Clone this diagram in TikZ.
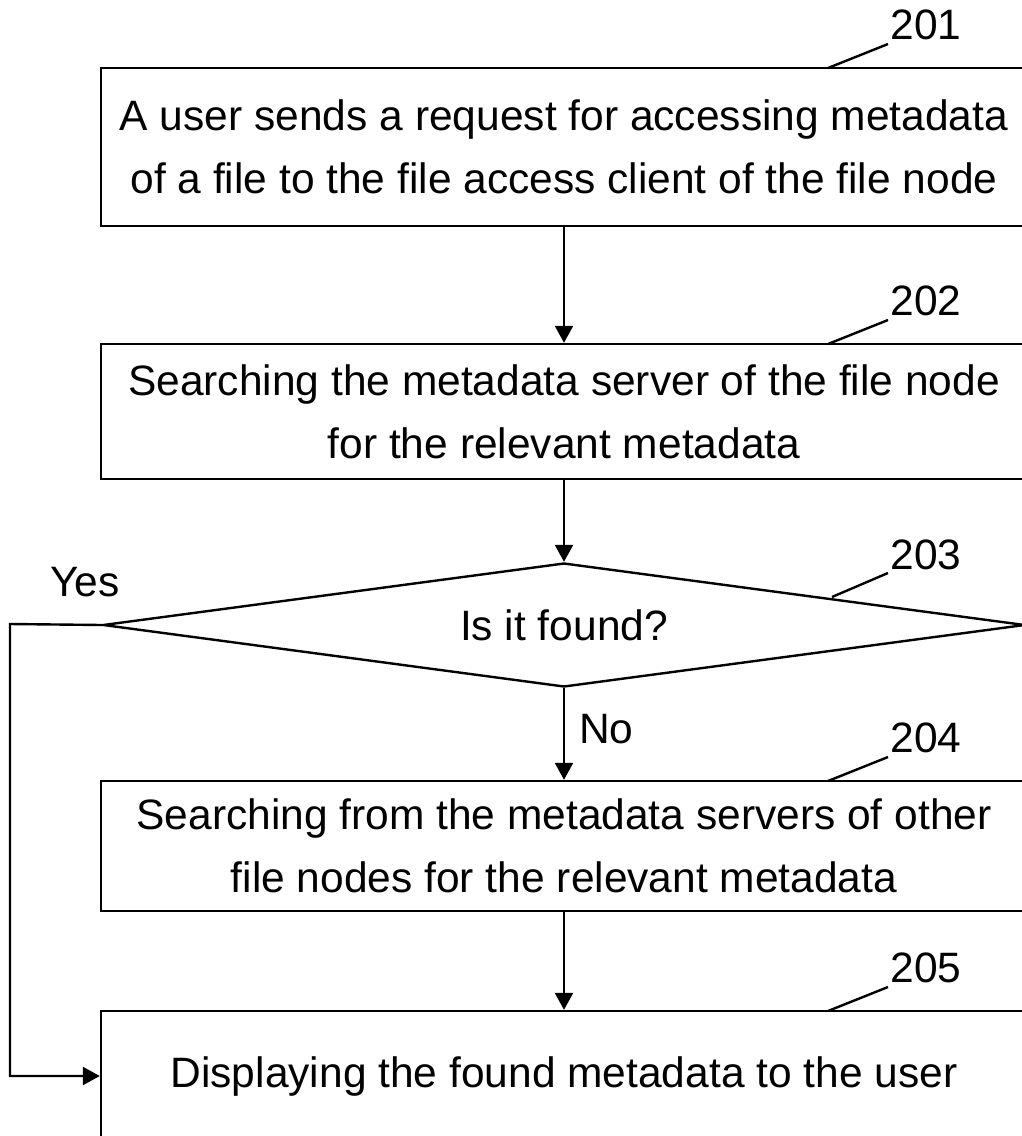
\documentclass[tikz,border=0pt]{standalone}
\usepackage{fontspec}
\setmainfont{Liberation Sans}
\usetikzlibrary{shapes.geometric,arrows.meta}
\begin{document}
\begin{tikzpicture}[x=1pt,y=-1pt,
  every node/.style={font=\fontsize{42.5}{63}\selectfont},
  box/.style={draw,line width=2.4pt,rectangle,minimum width=926pt,align=center,inner sep=0pt},
  dec/.style={draw,line width=2.4pt,diamond,inner sep=0pt,minimum width=922pt,minimum height=124pt,aspect=7.4},
  arr/.style={line width=2.4pt,-{Triangle[length=17pt,width=18pt]}},
  lead/.style={line width=2.4pt},
  ref/.style={inner sep=0pt,anchor=center}]
\useasboundingbox (0,0) rectangle (1022,1136);
\clip (0,0) rectangle (1022,1136);
\node[box,minimum height=158pt] (b1) at (564,147) {A user sends a request for accessing metadata\\of a file to the file access client of the file node};
\node[box,minimum height=135pt] (b2) at (564,411.5) {Searching the metadata server of the file node\\for the relevant metadata};
\node[dec] (d3) at (564,625) {Is it found?};
\node[box,minimum height=130pt] (b4) at (564,846) {Searching from the metadata servers of other\\file nodes for the relevant metadata};
\node[box,minimum height=130pt] (b5) at (564,1076) {Displaying the found metadata to the user};
\draw[arr] (b1.south) -- (b2.north);
\draw[arr] (b2.south) -- (d3.north);
\draw[arr] (d3.south) -- node[right=14pt,pos=0.45,inner sep=0pt] (no) {No} (b4.north);
\draw[arr] (b4.south) -- (b5.north);
\coordinate (yc) at (10,624);
\draw[arr] (d3.west) -- (yc) |- (b5.west);
\node[inner sep=0pt] (yes) at (85,582) {Yes};
% reference numerals
\node[ref] (r1) at (926,25) {201};
\node[ref] (r2) at (926,301) {202};
\node[ref] (r3) at (926,555) {203};
\node[ref] (r4) at (926,738) {204};
\node[ref] (r5) at (926,968) {205};
\coordinate (p1) at (828,68);
\coordinate (p2) at (828,344);
\coordinate (p3) at (832,597);
\coordinate (p4) at (828,781);
\coordinate (p5) at (828,1011);
\coordinate (q1) at (888,44);
\coordinate (q2) at (888,320);
\coordinate (q3) at (888,573);
\coordinate (q4) at (888,757);
\coordinate (q5) at (888,987);
\draw[lead] (p1) -- (q1);
\draw[lead] (p2) -- (q2);
\draw[lead] (p3) -- (q3);
\draw[lead] (p4) -- (q4);
\draw[lead] (p5) -- (q5);
\end{tikzpicture}
\end{document}
